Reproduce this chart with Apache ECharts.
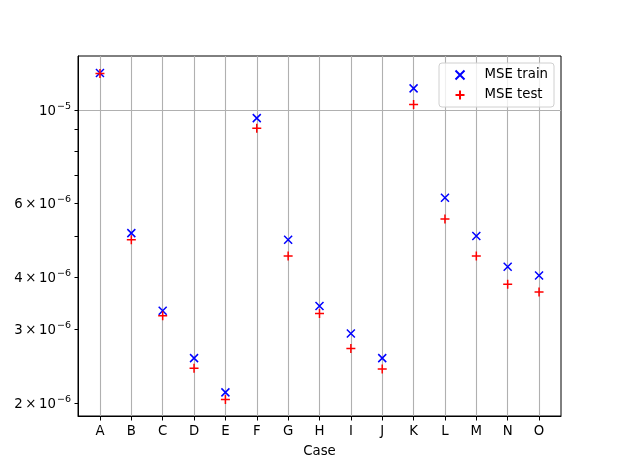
<!DOCTYPE html>
<html>
<head>
<meta charset="utf-8">
<script src="https://cdn.jsdelivr.net/npm/echarts@6/dist/echarts.min.js"></script>
<style>
  html, body { margin: 0; padding: 0; background: #fff; }
  #main { width: 623px; height: 467px; }
</style>
</head>
<body>
<div id="main"></div>
<script>
// cases on the x axis
var cases = ['A', 'B', 'C', 'D', 'E', 'F', 'G', 'H', 'I', 'J', 'K', 'L', 'M', 'N', 'O'];
var mseTrain = [1.228e-5, 5.09e-6, 3.32e-6, 2.56e-6, 2.12e-6, 9.58e-6, 4.91e-6, 3.41e-6,
                2.93e-6, 2.56e-6, 1.128e-5, 6.18e-6, 5.01e-6, 4.23e-6, 4.03e-6];
var mseTest = [1.225e-5, 4.91e-6, 3.23e-6, 2.42e-6, 2.04e-6, 9.06e-6, 4.49e-6, 3.27e-6,
               2.70e-6, 2.41e-6, 1.032e-5, 5.50e-6, 4.49e-6, 3.84e-6, 3.68e-6];
// y ticks
var yLabelValues = [2e-6, 3e-6, 4e-6, 6e-6, 1e-5];
var yTickValues = [2e-6, 3e-6, 4e-6, 5e-6, 6e-6, 7e-6, 8e-6, 9e-6, 1e-5];
var yMajor = [1e-5];
var yMin = 1.862e-6, yMax = 1.348e-5;

var FONT = 'DejaVu Sans';
var GRIDCOL = '#b0b0b0';
var idx = cases.map(function (c, i) { return i; });

function pairs(arr) {
  return arr.map(function (v, i) { return [i, v]; });
}

// matplotlib style "6 x 10^-6"
function sciLabel(v) {
  var e = Math.floor(Math.log10(v) + 1e-9);
  var m = Math.round(v / Math.pow(10, e));
  var sup = '{s|\u2212' + Math.abs(e) + '}';
  if (m === 1) return '{b|10}' + sup;
  return '{b|' + m + '\u2009\u00d7\u200910}' + sup;
}

var chart = echarts.init(document.getElementById('main'));
chart.setOption({
  animation: false,
  backgroundColor: '#fff',
  textStyle: { fontFamily: FONT },
  grid: {
    left: 78, right: 62, top: 56, bottom: 51,
    show: true, borderColor: '#000', borderWidth: 1, backgroundColor: 'transparent'
  },
  legend: {
    orient: 'vertical',
    right: 69, top: 63,
    padding: [5, 6, 5, 14],
    itemWidth: 9, itemHeight: 9, itemGap: 6,
    backgroundColor: 'rgba(255,255,255,0.8)',
    borderColor: '#d0d0d0', borderWidth: 1, borderRadius: 3,
    textStyle: { fontFamily: FONT, fontSize: 13.3, color: '#000', padding: [0, 0, 0, 15] },
    data: ['MSE train', 'MSE test']
  },
  xAxis: {
    type: 'value',
    min: -0.7, max: 14.7,
    name: 'Case', nameLocation: 'middle', nameGap: 29,
    nameTextStyle: { fontFamily: FONT, fontSize: 13.3, color: '#000' },
    axisLine: { show: true, onZero: false, lineStyle: { color: '#000', width: 1 } },
    axisTick: { show: true, inside: false, length: 4.5, customValues: idx, lineStyle: { color: '#000' } },
    axisLabel: {
      customValues: idx, margin: 9,
      fontFamily: FONT, fontSize: 13.3, color: '#000',
      formatter: function (v) { return cases[Math.round(v)]; }
    },
    splitLine: { show: true, lineStyle: { color: GRIDCOL, width: 1.1 } }
  },
  yAxis: [
    {
      type: 'log',
      min: yMin, max: yMax,
      axisLine: { show: true, onZero: false, lineStyle: { color: '#000', width: 1 } },
      axisTick: { show: true, length: 3.5, customValues: yTickValues, lineStyle: { color: '#000' } },
      axisLabel: {
        customValues: yLabelValues, margin: 7,
        color: '#000',
        formatter: sciLabel,
        rich: {
          b: { fontFamily: FONT, fontSize: 13.3, color: '#000', padding: [3, 0, 0, 0] },
          s: { fontFamily: FONT, fontSize: 9.5, color: '#000', verticalAlign: 'top', padding: [0, 0, 7, 1] }
        }
      },
      splitLine: { show: false }
    },
    {
      // only carries the major grid line
      type: 'log',
      min: yMin, max: yMax,
      position: 'left',
      axisLine: { show: false, onZero: false },
      axisTick: { show: false, customValues: yMajor },
      axisLabel: { show: false, customValues: yMajor },
      splitLine: { show: true, lineStyle: { color: GRIDCOL, width: 1.1 } }
    }
  ],
  series: [
    {
      name: 'MSE train', type: 'scatter',
      data: pairs(mseTrain),
      symbol: 'path://M0,0L10,10M10,0L0,10',
      symbolSize: 8,
      itemStyle: { color: 'none', borderColor: '#0000ff', borderWidth: 1.5, opacity: 1 },
      z: 3
    },
    {
      name: 'MSE test', type: 'scatter',
      data: pairs(mseTest),
      symbol: 'path://M5,0L5,10M0,5L10,5',
      symbolSize: 9,
      itemStyle: { color: 'none', borderColor: '#ff0000', borderWidth: 1.5, opacity: 1 },
      z: 4
    }
  ]
});
</script>
</body>
</html>
